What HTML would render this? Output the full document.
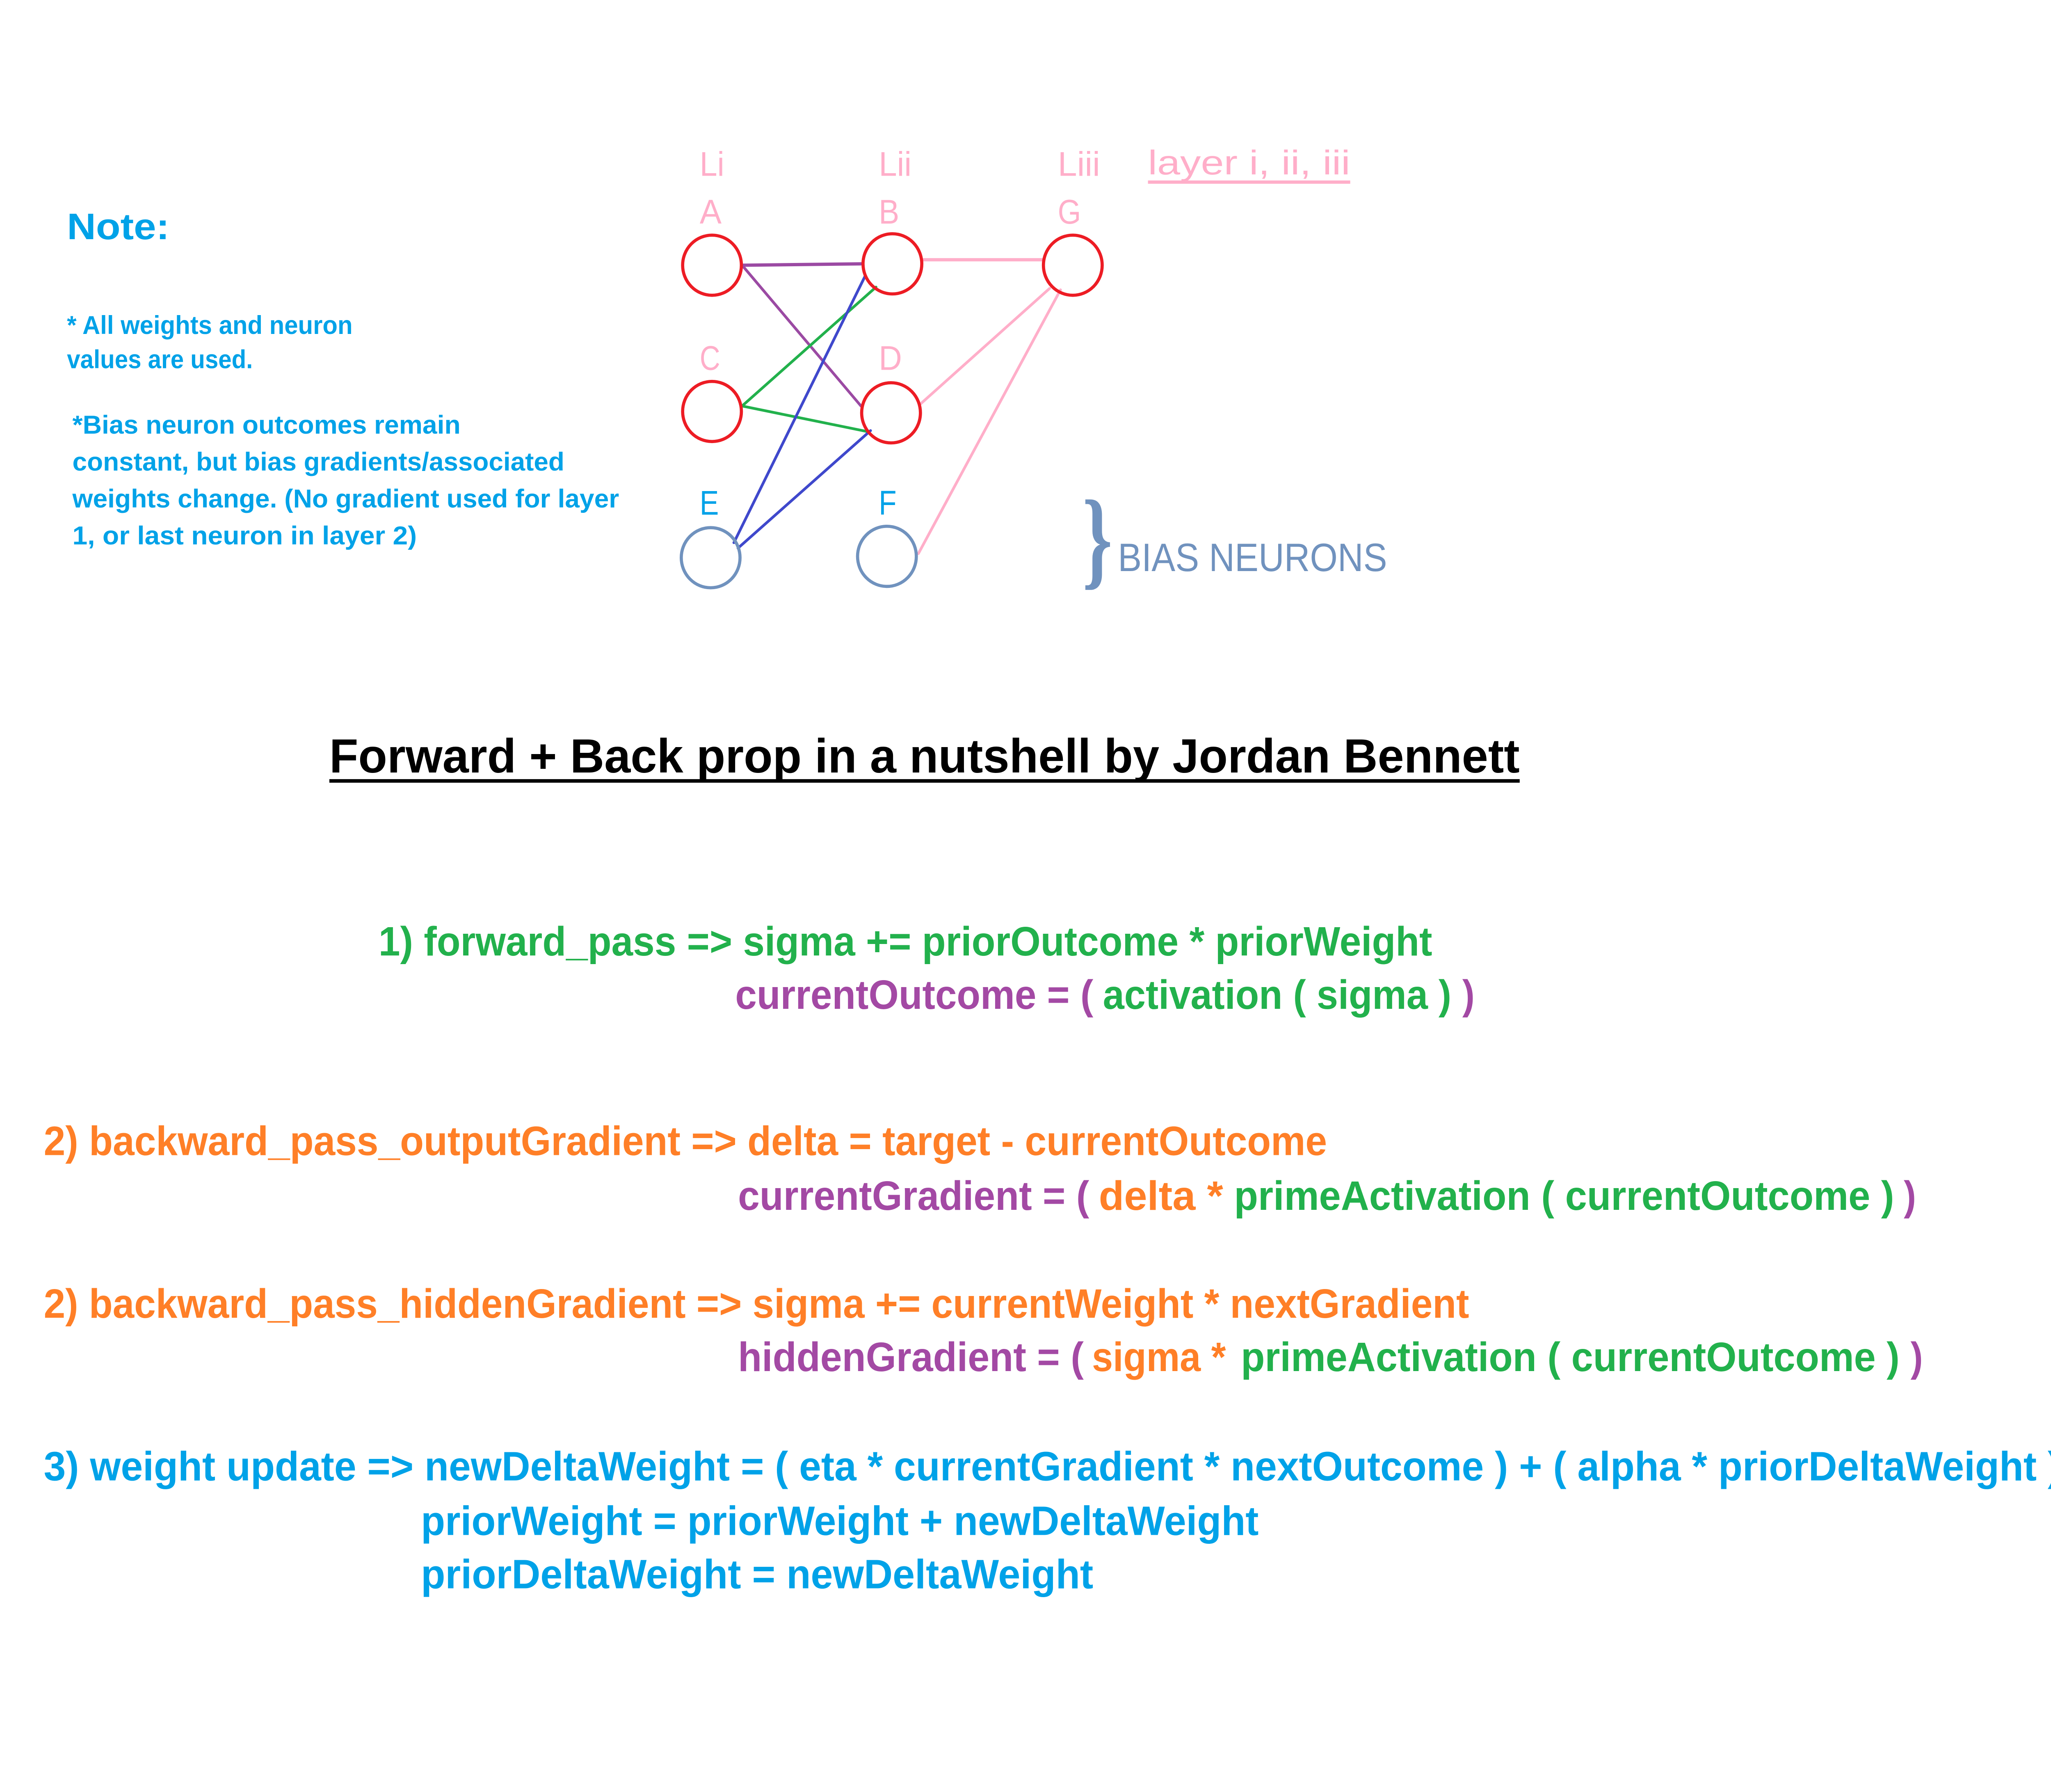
<!DOCTYPE html>
<html><head><meta charset="utf-8"><style>
html,body{margin:0;padding:0;background:#fff;}
svg{display:block;}
text{font-family:"Liberation Sans",sans-serif;dominant-baseline:central;}
.b{font-weight:bold;}
</style></head><body>
<svg width="5184" height="4368" viewBox="0 0 1556 1311" xmlns="http://www.w3.org/2000/svg">
<rect width="1556" height="1311" fill="#fff"/>
<g stroke-width="2" fill="none" stroke-linecap="round">
<line x1="543" y1="194" x2="630" y2="193" stroke="#9b4aa3" stroke-width="2.4"/>
<line x1="543" y1="194" x2="630" y2="297" stroke="#9b4aa3"/>
<line x1="543" y1="297" x2="641" y2="210" stroke="#22b14c"/>
<line x1="543" y1="297" x2="636" y2="316" stroke="#22b14c"/>
<line x1="537" y1="397" x2="633" y2="202" stroke="#3f48cc"/>
<line x1="540" y1="401" x2="637" y2="315" stroke="#3f48cc"/>
<line x1="676" y1="190" x2="763" y2="190" stroke="#ffaec9" stroke-width="2.4"/>
<line x1="673" y1="296" x2="768" y2="211" stroke="#ffaec9"/>
<line x1="672" y1="405" x2="776" y2="212" stroke="#ffaec9"/>
</g>
<g fill="none" stroke-width="2.3">
<ellipse cx="521" cy="194" rx="21.5" ry="22" stroke="#ed1c24"/>
<ellipse cx="653" cy="193" rx="21.5" ry="22" stroke="#ed1c24"/>
<ellipse cx="785" cy="194" rx="21.5" ry="22" stroke="#ed1c24"/>
<ellipse cx="521" cy="301" rx="21.5" ry="22" stroke="#ed1c24"/>
<ellipse cx="652" cy="302" rx="21.5" ry="22" stroke="#ed1c24"/>
<ellipse cx="520" cy="408" rx="21.5" ry="22" stroke="#7092be"/>
<ellipse cx="649" cy="407" rx="21.5" ry="22" stroke="#7092be"/>
</g>
<g fill="#ffaec9" font-size="25">
<text x="512" y="120" textLength="18" lengthAdjust="spacingAndGlyphs">Li</text>
<text x="643" y="120" textLength="24" lengthAdjust="spacingAndGlyphs">Lii</text>
<text x="774" y="120" textLength="31" lengthAdjust="spacingAndGlyphs">Liii</text>
<text x="840" y="119" textLength="148" lengthAdjust="spacingAndGlyphs">layer i, ii, iii</text>
<text x="512" y="155" textLength="16" lengthAdjust="spacingAndGlyphs">A</text>
<text x="643" y="155" textLength="15" lengthAdjust="spacingAndGlyphs">B</text>
<text x="774" y="155" textLength="17" lengthAdjust="spacingAndGlyphs">G</text>
<text x="512" y="262" textLength="15" lengthAdjust="spacingAndGlyphs">C</text>
<text x="643" y="262" textLength="17" lengthAdjust="spacingAndGlyphs">D</text>
</g>
<rect x="840" y="132" width="148" height="2.4" fill="#ffaec9"/>
<g fill="#00a2e8" font-size="25">
<text x="512" y="368" textLength="14" lengthAdjust="spacingAndGlyphs">E</text>
<text x="643" y="368" textLength="13" lengthAdjust="spacingAndGlyphs">F</text>
</g>
<text x="792" y="394" font-size="80" font-weight="bold" fill="#7092be" textLength="22" lengthAdjust="spacingAndGlyphs" style="font-family:'Liberation Serif',serif">}</text>
<text x="818" y="408" font-size="29" fill="#7092be" textLength="197" lengthAdjust="spacingAndGlyphs">BIAS NEURONS</text>
<g class="b" fill="#00a2e8">
<text x="49" y="166" font-size="27" textLength="75" lengthAdjust="spacingAndGlyphs">Note:</text>
<g font-size="19">
<text x="49" y="238" textLength="209" lengthAdjust="spacingAndGlyphs">* All weights and neuron</text>
<text x="49" y="263" textLength="136" lengthAdjust="spacingAndGlyphs">values are used.</text>
<text x="53" y="311" textLength="284" lengthAdjust="spacingAndGlyphs">*Bias neuron outcomes remain</text>
<text x="53" y="338" textLength="360" lengthAdjust="spacingAndGlyphs">constant, but bias gradients/associated</text>
<text x="53" y="365" textLength="400" lengthAdjust="spacingAndGlyphs">weights change. (No gradient used for layer</text>
<text x="53" y="392" textLength="252" lengthAdjust="spacingAndGlyphs">1,  or last neuron in layer 2)</text>
</g></g>
<text class="b" x="241" y="553" font-size="35" fill="#000" textLength="871" lengthAdjust="spacingAndGlyphs">Forward + Back prop in a nutshell by Jordan Bennett</text>
<rect x="241" y="570" width="871" height="2.6" fill="#000"/>
<g class="b" font-size="30">
<text x="277" y="689" fill="#22b14c" textLength="771" lengthAdjust="spacingAndGlyphs">1) forward_pass =&gt; sigma += priorOutcome * priorWeight</text>
<text x="538" y="728" fill="#a349a4" textLength="262" lengthAdjust="spacingAndGlyphs">currentOutcome = (</text>
<text x="807" y="728" fill="#22b14c" textLength="255" lengthAdjust="spacingAndGlyphs">activation ( sigma )</text>
<text x="1070" y="728" fill="#a349a4" textLength="9" lengthAdjust="spacingAndGlyphs">)</text>

<text x="32" y="835" fill="#ff7f27" textLength="939" lengthAdjust="spacingAndGlyphs">2) backward_pass_outputGradient =&gt; delta = target - currentOutcome</text>
<text x="540" y="875" fill="#a349a4" textLength="257" lengthAdjust="spacingAndGlyphs">currentGradient = (</text>
<text x="804" y="875" fill="#ff7f27" textLength="91" lengthAdjust="spacingAndGlyphs">delta *</text>
<text x="903" y="875" fill="#22b14c" textLength="483" lengthAdjust="spacingAndGlyphs">primeActivation ( currentOutcome )</text>
<text x="1393" y="875" fill="#a349a4" textLength="9" lengthAdjust="spacingAndGlyphs">)</text>

<text x="32" y="954" fill="#ff7f27" textLength="1043" lengthAdjust="spacingAndGlyphs">2) backward_pass_hiddenGradient =&gt; sigma += currentWeight * nextGradient</text>
<text x="540" y="993" fill="#a349a4" textLength="253" lengthAdjust="spacingAndGlyphs">hiddenGradient = (</text>
<text x="799" y="993" fill="#ff7f27" textLength="98" lengthAdjust="spacingAndGlyphs">sigma *</text>
<text x="908" y="993" fill="#22b14c" textLength="482" lengthAdjust="spacingAndGlyphs">primeActivation ( currentOutcome )</text>
<text x="1398" y="993" fill="#a349a4" textLength="9" lengthAdjust="spacingAndGlyphs">)</text>

<text x="32" y="1073" fill="#00a2e8" textLength="1476" lengthAdjust="spacingAndGlyphs">3) weight update =&gt; newDeltaWeight = ( eta * currentGradient * nextOutcome ) + ( alpha * priorDeltaWeight )</text>
<text x="308" y="1113" fill="#00a2e8" textLength="613" lengthAdjust="spacingAndGlyphs">priorWeight = priorWeight + newDeltaWeight</text>
<text x="308" y="1152" fill="#00a2e8" textLength="492" lengthAdjust="spacingAndGlyphs">priorDeltaWeight = newDeltaWeight</text>
</g>
</svg>
</body></html>
